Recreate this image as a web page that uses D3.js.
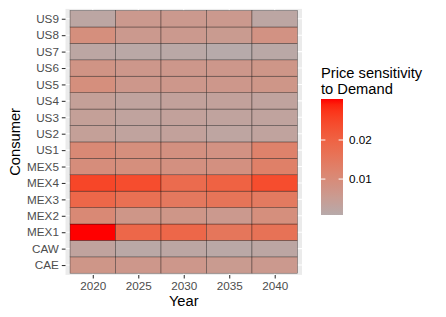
<!DOCTYPE html>
<html lang="en">
<head>
    <meta charset="UTF-8">
    <title>Price sensitivity to Demand</title>
    <script src="https://d3js.org/d3.v7.min.js"></script>
    <style>
        body { margin: 0; background: white; }
        text { font-family: "Liberation Sans", Arial, sans-serif; }
    </style>
</head>
<body>
    <div id="chart"></div>

    <script>
        // Categories (bottom to top) and years
        const consumers = ["CAE", "CAW", "MEX1", "MEX2", "MEX3", "MEX4", "MEX5",
                           "US1", "US2", "US3", "US4", "US5", "US6", "US7", "US8", "US9"];
        const years = [2020, 2025, 2030, 2035, 2040];

        // Price sensitivity values, one array per consumer (2020..2040)
        const CAE  = [0.0070, 0.0065, 0.0065, 0.0055, 0.0060];
        const CAW  = [0.0030, 0.0015, 0.0020, 0.0015, 0.0020];
        const MEX1 = [0.0305, 0.0190, 0.0190, 0.0155, 0.0165];
        const MEX2 = [0.0105, 0.0070, 0.0070, 0.0060, 0.0090];
        const MEX3 = [0.0190, 0.0170, 0.0150, 0.0160, 0.0145];
        const MEX4 = [0.0250, 0.0240, 0.0180, 0.0200, 0.0240];
        const MEX5 = [0.0095, 0.0090, 0.0085, 0.0085, 0.0130];
        const US1  = [0.0105, 0.0090, 0.0085, 0.0080, 0.0125];
        const US2  = [0.0040, 0.0030, 0.0035, 0.0025, 0.0030];
        const US3  = [0.0040, 0.0030, 0.0035, 0.0030, 0.0030];
        const US4  = [0.0040, 0.0030, 0.0035, 0.0035, 0.0030];
        const US5  = [0.0090, 0.0065, 0.0065, 0.0065, 0.0070];
        const US6  = [0.0075, 0.0065, 0.0065, 0.0065, 0.0070];
        const US7  = [0.0020, 0.0015, 0.0015, 0.0008, 0.0015];
        const US8  = [0.0090, 0.0060, 0.0060, 0.0055, 0.0080];
        const US9  = [0.0020, 0.0060, 0.0060, 0.0060, 0.0020];
        const legendTicks = [0.01, 0.02];

        const rows = { CAE, CAW, MEX1, MEX2, MEX3, MEX4, MEX5, US1, US2, US3, US4, US5, US6, US7, US8, US9 };
        const cells = consumers.flatMap(c => years.map((yr, i) => ({ consumer: c, year: yr, value: rows[c][i] })));

        const W = 446, H = 317;
        const panel = { left: 65.5, right: 302, top: 8.9, bottom: 274.9 };

        const svg = d3.select("#chart").append("svg")
            .attr("width", W).attr("height", H);

        // Discrete scales with ggplot-like expansion (0.6 units each side)
        const xPos = d3.scaleLinear().domain([0.4, years.length + 0.6]).range([panel.left, panel.right]);
        const yPos = d3.scaleLinear().domain([0.4, consumers.length + 0.6]).range([panel.bottom, panel.top]);
        const x = d => xPos(years.indexOf(d) + 1);
        const y = d => yPos(consumers.indexOf(d) + 1);
        const stepX = xPos(2) - xPos(1);
        const stepY = yPos(1) - yPos(2);

        const extent = d3.extent(cells, d => d.value);
        const color = d3.scaleLinear()
            .domain(extent)
            .range(["#B7AAAA", "#FF0000"])
            .interpolate(d3.interpolateLab);

        // Panel background and grid
        svg.append("rect")
            .attr("x", panel.left).attr("y", panel.top)
            .attr("width", panel.right - panel.left).attr("height", panel.bottom - panel.top)
            .attr("fill", "#EBEBEB");

        svg.append("g").selectAll("line").data(years).join("line")
            .attr("x1", d => x(d)).attr("x2", d => x(d))
            .attr("y1", panel.top).attr("y2", panel.bottom)
            .attr("stroke", "white").attr("stroke-width", 1.07);
        svg.append("g").selectAll("line").data(consumers).join("line")
            .attr("y1", d => y(d)).attr("y2", d => y(d))
            .attr("x1", panel.left).attr("x2", panel.right)
            .attr("stroke", "white").attr("stroke-width", 1.07);

        // Tiles
        svg.append("g").selectAll("rect").data(cells).join("rect")
            .attr("x", d => x(d.year) - stepX / 2)
            .attr("y", d => y(d.consumer) - stepY / 2)
            .attr("width", stepX)
            .attr("height", stepY)
            .attr("fill", d => color(d.value))
            .attr("stroke", "black")
            .attr("stroke-opacity", 0.5)
            .attr("stroke-width", 0.6);

        // Axes
        const xAxis = d3.axisBottom(d3.scalePoint().domain(years).range([x(years[0]), x(years[years.length - 1])]))
            .tickSize(3.7).tickPadding(2.9);
        const gx = svg.append("g").attr("transform", `translate(0,${panel.bottom})`).call(xAxis);
        const yAxis = d3.axisLeft(d3.scalePoint().domain(consumers).range([y(consumers[0]), y(consumers[consumers.length - 1])]))
            .tickSize(3.7).tickPadding(2.9);
        const gy = svg.append("g").attr("transform", `translate(${panel.left},0)`).call(yAxis);

        [gx, gy].forEach(g => {
            g.select(".domain").remove();
            g.selectAll(".tick line").attr("stroke", "#333333").attr("stroke-width", 1.07);
            g.selectAll(".tick text")
                .attr("fill", "#4D4D4D")
                .style("font-size", "11.7px")
                .style("font-family", "'Liberation Sans', Arial, sans-serif");
        });

        // Axis titles
        svg.append("text")
            .attr("x", (panel.left + panel.right) / 2)
            .attr("y", 306)
            .attr("text-anchor", "middle")
            .style("font-size", "14.7px")
            .text("Year");

        svg.append("text")
            .attr("transform", `translate(20,${(panel.top + panel.bottom) / 2}) rotate(-90)`)
            .attr("text-anchor", "middle")
            .style("font-size", "14.7px")
            .text("Consumer");

        // Legend
        const bar = { x: 321, y: 99, w: 22, h: 116 };
        const defs = svg.append("defs");
        const grad = defs.append("linearGradient")
            .attr("id", "legendGrad")
            .attr("x1", 0).attr("y1", 1).attr("x2", 0).attr("y2", 0);
        d3.range(0, 1.0001, 0.05).forEach(t => {
            grad.append("stop")
                .attr("offset", t)
                .attr("stop-color", color(extent[0] + t * (extent[1] - extent[0])));
        });

        const legend = svg.append("g");
        legend.append("text")
            .attr("x", bar.x).attr("y", 78)
            .style("font-size", "14.7px")
            .text("Price sensitivity");
        legend.append("text")
            .attr("x", bar.x).attr("y", 94)
            .style("font-size", "14.7px")
            .text("to Demand");

        legend.append("rect")
            .attr("x", bar.x).attr("y", bar.y)
            .attr("width", bar.w).attr("height", bar.h)
            .attr("fill", "url(#legendGrad)");

        const ly = d3.scaleLinear().domain(extent).range([bar.y + bar.h, bar.y]);
        legendTicks.forEach(v => {
            legend.append("line")
                .attr("x1", bar.x).attr("x2", bar.x + 4.4)
                .attr("y1", ly(v)).attr("y2", ly(v))
                .attr("stroke", "white").attr("stroke-width", 1);
            legend.append("line")
                .attr("x1", bar.x + bar.w - 4.4).attr("x2", bar.x + bar.w)
                .attr("y1", ly(v)).attr("y2", ly(v))
                .attr("stroke", "white").attr("stroke-width", 1);
            legend.append("text")
                .attr("x", bar.x + bar.w + 6)
                .attr("y", ly(v))
                .attr("dy", "0.35em")
                .style("font-size", "11.7px")
                .text(v);
        });
    </script>
</body>
</html>
